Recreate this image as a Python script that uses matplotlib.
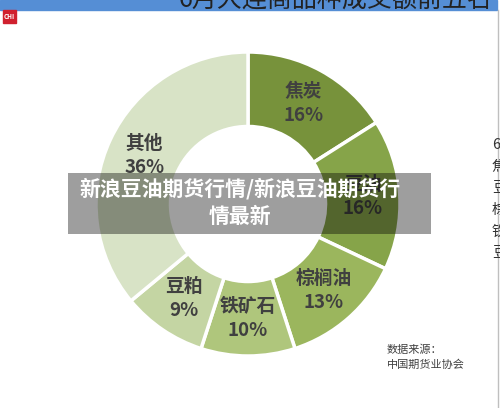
import matplotlib
matplotlib.use("Agg")
import matplotlib.pyplot as plt
import numpy as np
from matplotlib.patches import Rectangle

plt.rcParams["font.family"] = ["Noto Sans CJK SC", "DejaVu Sans"]

# data
products = ["焦炭", "豆油", "棕榈油", "铁矿石", "豆粕", "其他"]
shares = [16, 16, 13, 10, 9, 36]
colors = ["#77923B", "#86A449", "#9BB65D", "#AFC67C", "#C4D5A3", "#D8E3C6"]
title = "6月大连商品种成交额前五名"
side_items = ["6", "焦", "豆", "棕", "铁", "豆"]
source_lines = ["数据来源：", "中国期货业协会"]
overlay_lines = ["新浪豆油期货行情/新浪豆油期货行", "情最新"]

W, H = 500, 408
fig = plt.figure(figsize=(W / 100, H / 100), dpi=100)
ax = fig.add_axes([0, 0, 1, 1])

cx, cy, R = 248, 204, 152
ring = 0.49

# y axis is flipped below, so ccw in data = clockwise on screen
wedges, _ = ax.pie(shares, colors=colors, startangle=-90, counterclock=True,
                   center=(cx, cy), radius=R, frame=True,
                   wedgeprops=dict(width=R * ring, edgecolor="white", linewidth=2.5))

r_lab = R * (1 - ring / 2)
for w, name, val in zip(wedges, products, shares):
    mid = np.deg2rad((w.theta1 + w.theta2) / 2)
    x = cx + r_lab * np.cos(mid)
    y = cy + r_lab * np.sin(mid)
    ax.text(x, y - 12, name, ha="center", va="center", fontsize=13.5,
            fontweight="bold", color="#404040")
    ax.text(x, y + 12, f"{val}%", ha="center", va="center", fontsize=13.5,
            fontweight="bold", color="#404040")

ax.set_xlim(0, W)
ax.set_ylim(H, 0)
ax.set_aspect("auto")
ax.axis("off")

# top banner with cut-off title
ax.add_patch(Rectangle((0, 0), 497, 10, color="#558ED5", zorder=1))
ax.text(492, 7, title, ha="right", va="baseline", fontsize=18, color="#222222",
        zorder=2, clip_on=True)

# logo
ax.add_patch(Rectangle((3, 10), 13, 13, color="#D0202E", zorder=3))
ax.text(9.5, 16.5, "CHI", ha="center", va="center", fontsize=4.5, color="white",
        fontweight="bold", zorder=4)

# right border and clipped side legend
ax.plot([498, 498], [10, H], color="#BFBFBF", linewidth=1)
for i, s in enumerate(side_items):
    ax.text(492, 145 + i * 21.6, s, ha="left", va="center", fontsize=10.5,
            color="#333333")

# source note
for i, s in enumerate(source_lines):
    ax.text(387, 350 + i * 15, s, ha="left", va="center", fontsize=8,
            color="#404040")

# overlay caption
ax.add_patch(Rectangle((68, 173), 363, 61, facecolor="black", alpha=0.38,
                       edgecolor="none", zorder=5))
ax.text(240, 189, overlay_lines[0], ha="center", va="center", fontsize=15,
        fontweight="bold", color="white", zorder=6)
ax.text(240, 216, overlay_lines[1], ha="center", va="center", fontsize=15,
        fontweight="bold", color="white", zorder=6)

fig.savefig("out.png", dpi=100, facecolor="white")
